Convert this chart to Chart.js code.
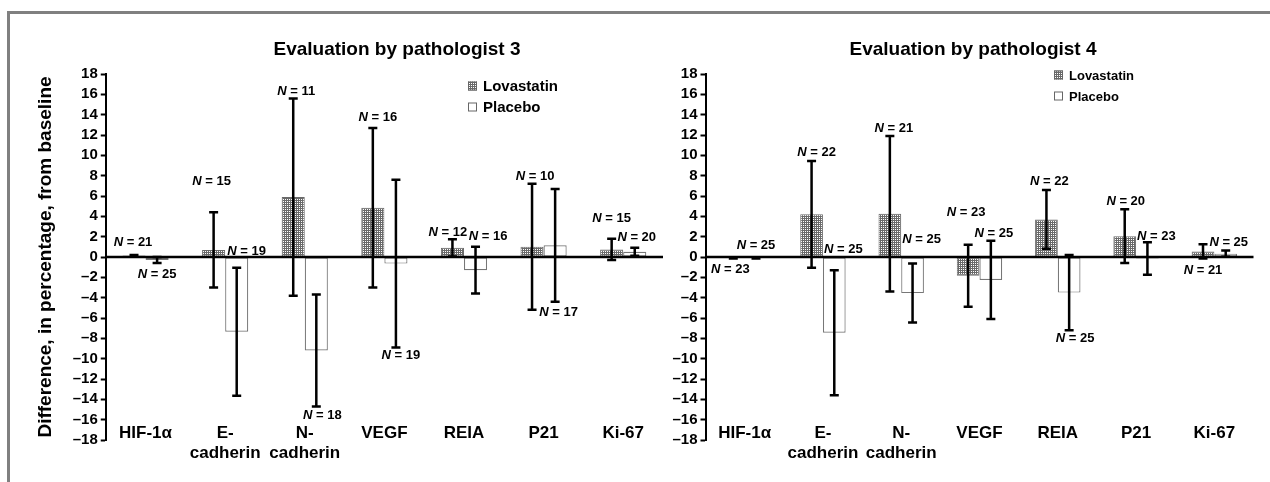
<!DOCTYPE html>
<html><head><meta charset="utf-8">
<script src="https://cdn.jsdelivr.net/npm/chart.js@4.4.1/dist/chart.umd.min.js"></script>
<style>
html,body{margin:0;padding:0;background:#fff;}
body{width:1270px;height:482px;position:relative;overflow:hidden;}
#frame{position:absolute;left:7px;top:11px;width:1300px;height:520px;border-left:3px solid #808080;border-top:3px solid #808080;}
#c3{position:absolute;left:0;top:0;width:680px;height:482px;}
#c4{position:absolute;left:660px;top:0;width:610px;height:482px;}
</style></head><body>
<div id="frame"></div>
<canvas id="c3" width="680" height="482"></canvas>
<canvas id="c4" width="610" height="482"></canvas>
<script>
// ---------- data ----------
const categories = ['HIF-1\u03b1', ['E-', 'cadherin'], ['N-', 'cadherin'], 'VEGF', 'REIA', 'P21', 'Ki-67'];
const seriesNames = ['Lovastatin', 'Placebo'];
const yTicksMin = -18, yTicksMax = 18, yTickStep = 2;
const yAxisTitle = 'Difference, in percentage, from baseline';

// Pathologist 3
const p3Title = 'Evaluation by pathologist 3';
const p3Lova = [0.15, 0.7, 5.9, 4.85, 0.9, 1.0, 0.75];
const p3LovaErr = [0.05, 3.7, 9.7, 7.85, 0.85, 6.2, 1.05];
const p3Plac = [-0.3, -7.35, -9.2, -0.65, -1.3, 1.15, 0.52];
const p3PlacErr = [0.3, 6.3, 5.5, 8.25, 2.3, 5.55, 0.4];
const p3LovaN = [21, 15, 11, 16, 12, 10, 15];
const p3PlacN = [25, 19, 18, 19, 16, 17, 20];

// Pathologist 4
const p4Title = 'Evaluation by pathologist 4';
const p4Lova = [-0.1, 4.2, 4.25, -1.85, 3.7, 2.05, 0.55];
const p4LovaErr = [0.05, 5.25, 7.65, 3.05, 2.9, 2.65, 0.7];
const p4Plac = [-0.1, -7.45, -3.55, -2.25, -3.5, -0.15, 0.33];
const p4PlacErr = [0.05, 6.15, 2.9, 3.85, 3.7, 1.6, 0.3];
const p4LovaN = [23, 22, 21, 23, 22, 20, 21];
const p4PlacN = [25, 25, 25, 25, 25, 23, 25];

// ---------- label placement (value-axis position of each N label, and small horizontal nudge) ----------
const p3Spots = {
  lovaAt: [1.41, 7.43, 16.3, 13.7, 2.4, 7.9, 3.8], lovaDx: [-1, -2, 3, 5, -4.5, 3, 0],
  placAt: [-1.7, 0.5, -15.6, -9.7, 2.0, -5.5, 1.9], placDx: [0, 10, 6, 5, 12.5, 3.5, 2]
};
const p4Spots = {
  lovaAt: [-1.2, 10.3, 12.6, 4.37, 7.43, 5.5, -1.28], lovaDx: [-3, 5, 4, -2, 3, 1, 0],
  placAt: [1.18, 0.76, 1.75, 2.3, -8.0, 2.07, 1.41], placDx: [0, 9, 9, 3, 6, 9, 3]
};

const FONT = '"Liberation Sans", Arial, Helvetica, sans-serif';

function makePattern(ctx) {
  const c = document.createElement('canvas');
  c.width = 4; c.height = 4;
  const g = c.getContext('2d');
  g.fillStyle = '#6a6a6a'; g.fillRect(0, 0, 4, 4);
  g.fillStyle = '#ffffff';
  [[1,1],[3,3],[1,3],[3,1]].forEach(p => g.fillRect(p[0], p[1], 1, 1));
  return ctx.createPattern(c, 'repeat');
}

function drawN(ctx, n, cx, cy, size) {
  const fi = 'italic bold ' + size + 'px ' + FONT;
  const fb = 'bold ' + size + 'px ' + FONT;
  ctx.font = fi; const w1 = ctx.measureText('N').width;
  ctx.font = fb; const rest = ' = ' + n; const w2 = ctx.measureText(rest).width;
  const x0 = cx - (w1 + w2) / 2;
  ctx.textBaseline = 'middle'; ctx.textAlign = 'left'; ctx.fillStyle = '#000';
  ctx.font = fi; ctx.fillText('N', x0, cy);
  ctx.font = fb; ctx.fillText(rest, x0 + w1, cy);
}

const decor = {
  id: 'decor',
  afterDatasetsDraw(chart) {
    const o = chart.options.plugins.decor;
    const ctx = chart.ctx;
    const ys = chart.scales.y;
    const area = chart.chartArea;
    ctx.save();
    const y0 = ys.getPixelForValue(0);
    ctx.strokeStyle = '#000'; ctx.lineWidth = 2.5;
    ctx.beginPath(); ctx.moveTo(area.left, y0); ctx.lineTo(area.right, y0); ctx.stroke();
    chart.data.datasets.forEach((ds, di) => {
      const meta = chart.getDatasetMeta(di);
      meta.data.forEach((el, i) => {
        const v = ds.data[i], e = ds.err[i];
        const yt = ys.getPixelForValue(v + e), yb = ys.getPixelForValue(v - e);
        ctx.lineWidth = 2.5; ctx.strokeStyle = '#000';
        ctx.beginPath();
        ctx.moveTo(el.x, yt); ctx.lineTo(el.x, yb);
        ctx.moveTo(el.x - 4.5, yt); ctx.lineTo(el.x + 4.5, yt);
        ctx.moveTo(el.x - 4.5, yb); ctx.lineTo(el.x + 4.5, yb);
        ctx.stroke();
        drawN(ctx, ds.n[i], el.x + ds.nDx[i], ys.getPixelForValue(ds.nAt[i]), 13);
      });
    });
    ctx.fillStyle = '#000'; ctx.textAlign = 'center'; ctx.textBaseline = 'middle';
    ctx.font = 'bold 19px ' + FONT;
    ctx.fillText(o.title, o.titleX, o.titleY);
    const lg = o.legend;
    chart.data.datasets.forEach((ds, di) => {
      const cy = lg.y + di * lg.gap;
      ctx.fillStyle = ds.backgroundColor;
      ctx.fillRect(lg.x, cy - lg.box / 2, lg.box, lg.box);
      ctx.strokeStyle = '#666'; ctx.lineWidth = 1;
      ctx.strokeRect(lg.x + 0.5, cy - lg.box / 2 + 0.5, lg.box - 1, lg.box - 1);
      ctx.fillStyle = '#000'; ctx.textAlign = 'left'; ctx.textBaseline = 'middle';
      ctx.font = 'bold ' + lg.size + 'px ' + FONT;
      ctx.fillText(ds.label, lg.x + lg.box + 6, cy + 1);
    });
    ctx.restore();
  }
};

function buildChart(id, c) {
  const ctx = document.getElementById(id).getContext('2d');
  const pattern = makePattern(ctx);
  return new Chart(ctx, {
    type: 'bar',
    data: {
      labels: categories,
      datasets: [
        { label: seriesNames[0], data: c.lova, err: c.lovaErr, n: c.lovaN, nAt: c.spots.lovaAt, nDx: c.spots.lovaDx,
          backgroundColor: pattern, borderColor: '#6a6a6a', borderWidth: 1, borderSkipped: false },
        { label: seriesNames[1], data: c.plac, err: c.placErr, n: c.placN, nAt: c.spots.placAt, nDx: c.spots.placDx,
          backgroundColor: '#ffffff', borderColor: '#777777', borderWidth: 1.2, borderSkipped: false }
      ]
    },
    options: {
      responsive: false, animation: false,
      datasets: { bar: { categoryPercentage: 0.58, barPercentage: 1.0 } },
      layout: { padding: { left: 0, right: c.padRight, top: 74, bottom: 0 } },
      plugins: {
        legend: { display: false }, tooltip: { enabled: false }, title: { display: false },
        decor: { title: c.title, titleX: c.titleX, titleY: 50, legend: c.legend }
      },
      scales: {
        x: {
          grid: { display: false, drawTicks: false, tickLength: 0 },
          border: { display: false },
          ticks: { font: { family: FONT, size: 17, weight: 'bold' }, color: '#000', padding: -17, maxRotation: 0, autoSkip: false },
          afterFit(s) { s.height = 42; s._computeLabelArea = () => undefined; }
        },
        y: {
          min: yTicksMin, max: yTicksMax,
          ticks: { stepSize: yTickStep, autoSkip: false, font: { family: FONT, size: 15, weight: 'bold' }, color: '#000', padding: 3,
                   callback: v => (v < 0 ? '\u2013' + Math.abs(v) : String(v)) },
          grid: { color: 'transparent', drawOnChartArea: false, tickColor: '#000', tickLength: 5, tickWidth: 2 },
          border: { display: true, color: '#000', width: 2 },
          title: c.showYTitle ? { display: true, text: yAxisTitle, color: '#000',
                   font: { family: FONT, size: 19, weight: 'bold' }, padding: { top: 34.6, bottom: 0 } } : { display: false },
          afterFit(s) { s.width = c.axisWidth; }
        }
      }
    },
    plugins: [decor]
  });
}

buildChart('c3', {
  lova: p3Lova, lovaErr: p3LovaErr, plac: p3Plac, placErr: p3PlacErr, lovaN: p3LovaN, placN: p3PlacN, spots: p3Spots,
  title: p3Title, titleX: 397, padRight: 17, axisWidth: 105.75, showYTitle: true,
  legend: { x: 468, y: 86, gap: 21, box: 9, size: 15 }
});
buildChart('c4', {
  lova: p4Lova, lovaErr: p4LovaErr, plac: p4Plac, placErr: p4PlacErr, lovaN: p4LovaN, placN: p4PlacN, spots: p4Spots,
  title: p4Title, titleX: 313, padRight: 16.5, axisWidth: 45.5, showYTitle: false,
  legend: { x: 394, y: 75, gap: 21, box: 9, size: 13 }
});
</script>
</body></html>
